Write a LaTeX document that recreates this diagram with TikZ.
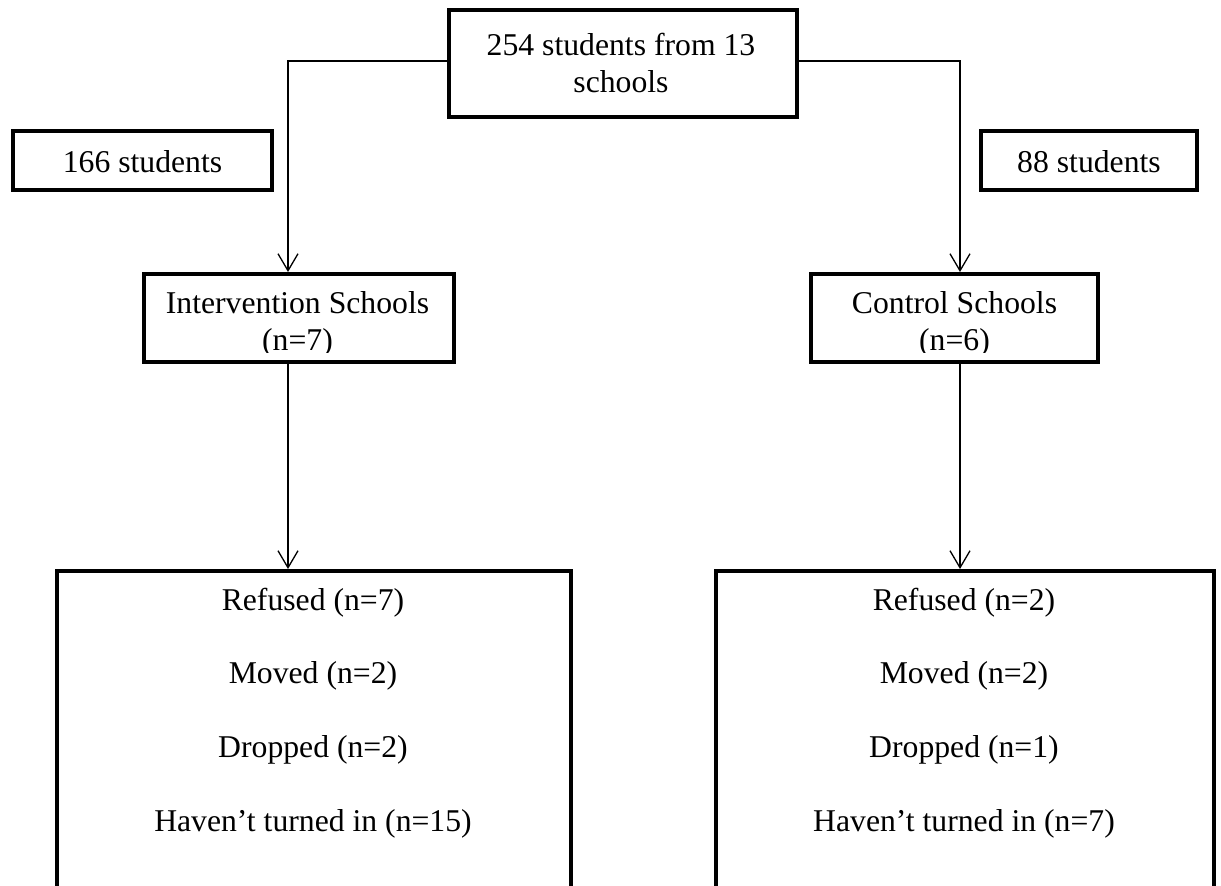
\documentclass[tikz,border=0pt]{standalone}
\usepackage{fontspec}
\setmainfont{Liberation Serif}
\usetikzlibrary{arrows.meta}
\begin{document}
\begin{tikzpicture}[x=1pt,y=-1pt,
  box/.style={draw,line width=4pt,inner sep=0pt},
  openbox/.style={draw=none,inner sep=0pt,outer sep=0pt},
  sides/.style={line width=4pt},
  conn/.style={line width=1.3pt},
  arr/.style={conn,-{Straight Barb[length=17pt,width=20pt]}},
  txt/.style={anchor=base,inner sep=0pt,font=\fontsize{31.7}{36}\selectfont}]
\useasboundingbox (0,0) rectangle (1221,886);
% boxes
\node[box,minimum width=348pt,minimum height=107pt] (top) at (623,63.5) {};
\node[box,minimum width=259pt,minimum height=59pt] (l166) at (142.5,160.5) {};
\node[box,minimum width=216pt,minimum height=59pt] (r88) at (1089,160.5) {};
\node[box,minimum width=310pt,minimum height=88pt] (int) at (299,318) {};
\node[box,minimum width=287pt,minimum height=88pt] (ctl) at (954.5,318) {};
\node[openbox,minimum width=514pt,minimum height=315pt] (bl) at (314,728.5) {};
\node[openbox,minimum width=498pt,minimum height=315pt] (br) at (965,728.5) {};
\draw[sides] (bl.south west) |- (bl.north east) -- (bl.south east);
\draw[sides] (br.south west) |- (br.north east) -- (br.south east);
% texts
\node[txt] (t1) at (621,55) {254 students from 13};
\node[txt] (t2) at (621,92) {schools};
\node[txt] (t166) at (142.5,172) {166 students};
\node[txt] (t88) at (1089,172) {88 students};
\node[txt] (ti1) at (297.5,313) {Intervention Schools};
\node[txt] (tc1) at (954.5,313) {Control Schools};
\begin{scope}
  \clip (144,274) rectangle (454,352);
  \node[txt] (ti2) at (297.5,350) {(n=7)};
\end{scope}
\begin{scope}
  \clip (811,274) rectangle (1098,352);
  \node[txt] (tc2) at (954.5,350) {(n=6)};
\end{scope}
\node[txt] (bl1) at (313,610) {Refused (n=7)};
\node[txt] (bl2) at (313,683) {Moved (n=2)};
\node[txt] (bl3) at (313,757) {Dropped (n=2)};
\node[txt] (bl4) at (313,831) {Haven’t turned in (n=15)};
\node[txt] (br1) at (964,610) {Refused (n=2)};
\node[txt] (br2) at (964,683) {Moved (n=2)};
\node[txt] (br3) at (964,757) {Dropped (n=1)};
\node[txt] (br4) at (964,831) {Haven’t turned in (n=7)};
% connectors
\coordinate (lx) at (288,0);
\coordinate (rx) at (960,0);
\coordinate (topw) at ([yshift=2.5pt]top.west);
\coordinate (tope) at ([yshift=2.5pt]top.east);
\coordinate (bltop) at ([yshift=2pt]bl.north);
\coordinate (brtop) at ([yshift=2pt]br.north);
\draw[arr] (topw) -| (lx |- int.north);
\draw[arr] (tope) -| (rx |- ctl.north);
\draw[arr] (lx |- int.south) -- (lx |- bltop);
\draw[arr] (rx |- ctl.south) -- (rx |- brtop);
\end{tikzpicture}
\end{document}
